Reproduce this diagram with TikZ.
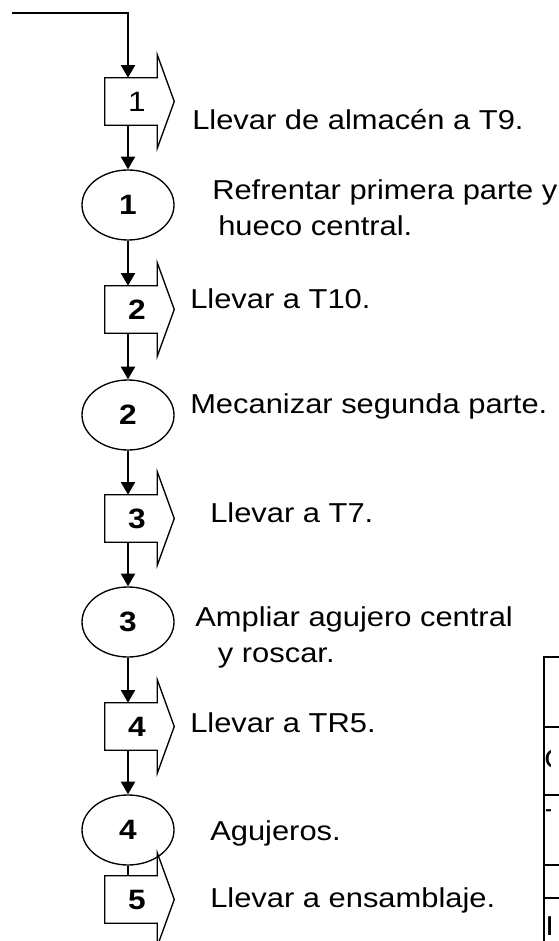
\documentclass[tikz,border=0pt]{standalone}
\usepackage{fontspec}
\setmainfont{Liberation Sans}[FakeStretch=1.13]
\usetikzlibrary{arrows.meta,shapes.geometric,calc}

\begin{document}
\begin{tikzpicture}[
    x=0.75pt, y=-0.75pt,
    >={Triangle[length=9.5pt,width=10.5pt]},
    oper/.style={
        ellipse,
        draw,
        line width=1pt,
        minimum width=69pt,
        minimum height=52.5pt,
        inner sep=0pt,
        font=\fontsize{21}{25}\selectfont\bfseries
    },
    transp/.style={
        rectangle,
        minimum width=39pt,
        minimum height=35.25pt,
        inner sep=0pt,
        font=\fontsize{21}{25}\selectfont\bfseries
    },
    desc/.style={
        anchor=base west,
        inner sep=0pt,
        align=left,
        font=\fontsize{20.5}{27}\selectfont
    },
    flow/.style={line width=1.6pt}
]
\useasboundingbox (0,0) rectangle (559,941);

% Entry
\coordinate (start) at (12,13);

% Transport and operation steps
\node[transp] (t1) at (131,101.5) {\kern9pt\mdseries 1};
\node[oper] (e1) at (128,205) {1};
\node[transp] (t2) at (131,309.5) {\kern9pt 2};
\node[oper] (e2) at (128,415) {2};
\node[transp] (t3) at (131,518.5) {\kern9pt 3};
\node[oper] (e3) at (128,622) {3};
\node[transp] (t4) at (131,726.5) {\kern9pt 4};
\node[oper] (e4) at (128,830) {4};
\node[transp] (t5) at (131,899.5) {\kern9pt 5};

% Transport outlines (box with arrow head)
\foreach \t in {t1,t2,t3,t4,t5}
    \draw[line width=1pt, line join=miter] (\t.north east) -- (\t.north west)
        -- (\t.south west) -- (\t.south east) -- ++(0,23)
        -- ($(\t.east)+(17,0)$) -- ($(\t.north east)+(0,-23)$) -- cycle;

% Flow
\draw[flow,->] (start) -| (t1.north -| e1.center);
\draw[flow,->] (t1.south -| e1.center) -- (e1.north);
\draw[flow,->] (e1.south) -- (t2.north -| e1.south);
\draw[flow,->] (t2.south -| e2.center) -- (e2.north);
\draw[flow,->] (e2.south) -- (t3.north -| e2.south);
\draw[flow,->] (t3.south -| e3.center) -- (e3.north);
\draw[flow,->] (e3.south) -- (t4.north -| e3.south);
\draw[flow,->] (t4.south -| e4.center) -- (e4.north);
\draw[flow] (e4.south) -- (t5.north -| e4.south);

% Descriptions (two-line texts sit on their last line)
\node[desc] (d1) at (192,130) {Llevar de almacén a T9.};
\node[desc] (d2) at (212,235) {Refrentar primera parte y\\\hspace*{4.5pt}hueco central.};
\node[desc] (d3) at (190,308) {Llevar a T10.};
\node[desc] (d4) at (190,413) {Mecanizar segunda parte.};
\node[desc] (d5) at (210,522) {Llevar a T7.};
\node[desc] (d6) at (195,662) {Ampliar agujero central\\\hspace*{17pt}y roscar.};
\node[desc] (d7) at (190,732) {Llevar a TR5.};
\node[desc] (d8) at (210,840) {Agujeros.};
\node[desc] (d9) at (210,907) {Llevar a ensamblaje.};

% Legend table (cut at the border)
\draw[line width=1pt] (559,657) -- (544,657) -- (544,941);
\foreach \ry in {727,795,865,898}
    \draw[line width=1pt] (544,\ry) -- (559,\ry);
\begin{scope}
    \clip (545,650) rectangle (550,941);
    \node[desc] (tb2) at (544,768) {O};
    \node[desc] (tb3) at (545,828) {T};
    \node[desc] (tb5) at (545,935) {I};
\end{scope}

\end{tikzpicture}
\end{document}
